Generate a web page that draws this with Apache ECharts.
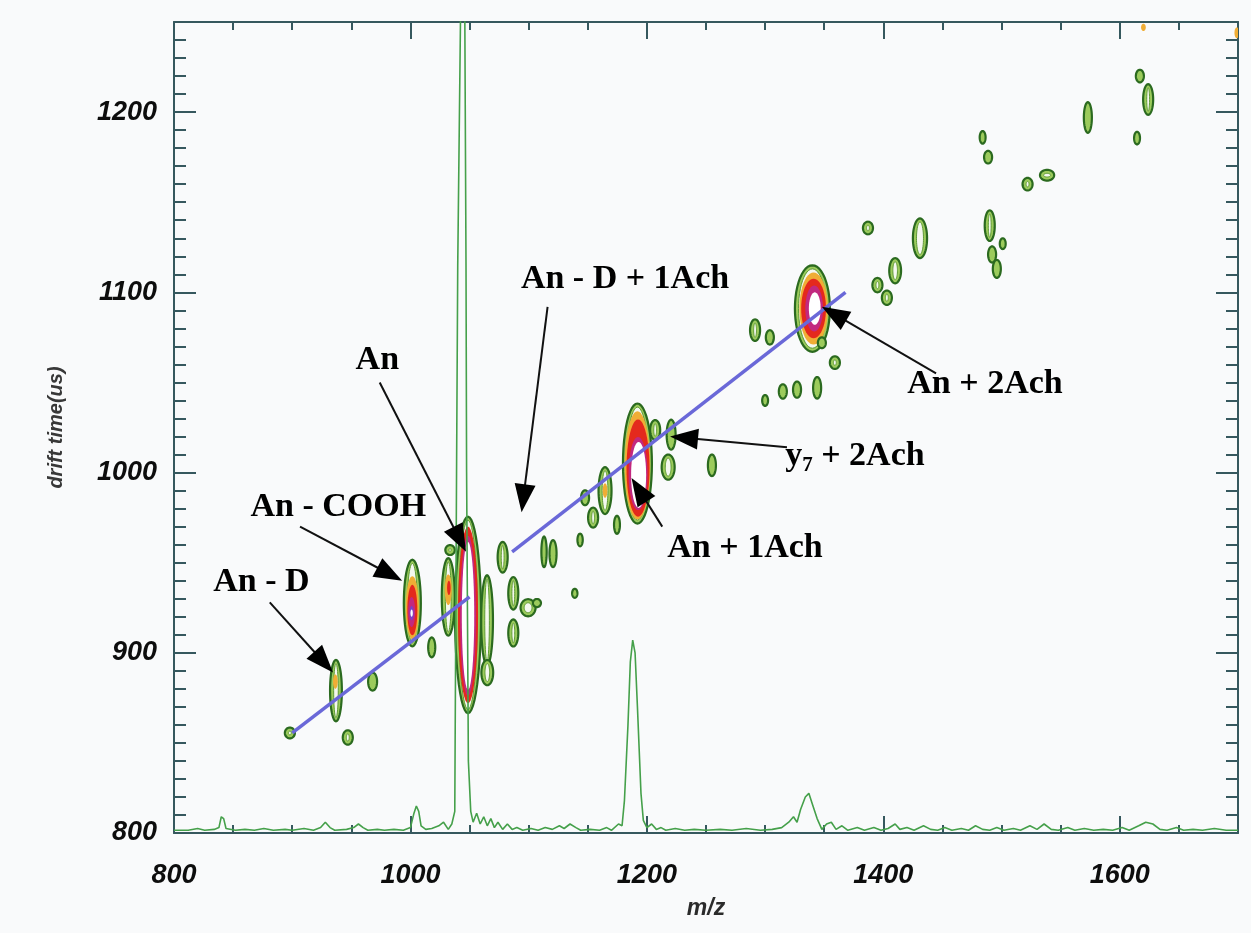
<!DOCTYPE html>
<html>
<head>
<meta charset="utf-8">
<script src="https://cdn.jsdelivr.net/npm/echarts@6/dist/echarts.min.js"></script>
<style>
html,body{margin:0;padding:0;background:#f9fafb;}
#chart{width:1251px;height:933px;}
</style>
</head>
<body>
<div id="chart"></div>
<script>
// ---------- axis ranges / ticks ----------
const xRange = [800, 1700];
const yRange = [800, 1250];
const xMajor = 200, xMinor = 50;
const yMajor = 100, yMinor = 10;
const xTickLabels = [800, 1000, 1200, 1400, 1600];
const yTickLabels = [800, 900, 1000, 1100, 1200];

// ---------- mass spectrum trace along the bottom [m/z, drift-time units] ----------
const spectrum = [
  [800,801.5],[812,801.5],[820,802.5],[826,801.5],[834,802],[838,803],[840,809],[842,808],[844,802.5],
  [852,801.5],[860,802],[868,801.5],[876,802.5],[884,801.5],[894,802],[900,801.5],[910,802.5],[918,801.5],
  [924,803],[928,806],[932,803],[936,801.5],[946,802],[952,803],[956,805],[960,803],[964,801.5],[972,802],
  [978,801.5],[986,802],[994,801.5],[1000,803],[1003,811],[1005,815],[1007,812],[1009,804],[1013,802],
  [1018,802.5],[1024,804],[1028,806],[1032,802],[1035,805],[1037.5,812],[1039,1000],[1040,1115],
  [1043.5,1320],[1045.5,1320],[1047,1115],[1047.5,1000],[1049,840],[1051,812],[1053,806],[1056,811],
  [1059,805],[1062,809],[1065,804],[1068,808],[1071,803],[1074,806],[1078,802],[1082,805],[1086,802],
  [1090,803],[1095,801.5],[1102,802.5],[1108,801.5],[1114,803],[1120,802],[1126,804],[1130,802.5],
  [1135,805],[1140,803],[1144,801.5],[1152,802],[1160,801.5],[1166,803],[1170,801.5],[1176,805],[1179,804],
  [1181,818],[1184,860],[1186,895],[1188,907],[1190,900],[1192,870],[1195,822],[1197,807],[1200,803],
  [1204,805],[1208,802],[1212,803],[1216,801.5],[1224,802.5],[1232,801.5],[1240,802],[1250,801.5],
  [1262,802],[1272,801.5],[1284,802.5],[1296,801.5],[1306,802],[1314,803],[1320,806],[1324,809],[1327,806],
  [1330,813],[1334,820],[1337,822],[1340,816],[1344,808],[1348,802],[1352,805],[1356,806],[1360,802],
  [1365,804],[1370,801.5],[1378,803],[1384,801.5],[1392,803],[1398,801.5],[1404,802.5],[1410,805],
  [1414,802],[1420,803],[1426,801.5],[1434,804],[1440,802],[1446,801.5],[1452,803],[1458,801.5],
  [1466,802.5],[1472,801.5],[1478,804],[1484,802],[1490,801.5],[1496,803],[1502,801.5],[1510,802.5],
  [1516,801.5],[1524,804],[1530,802],[1536,805],[1542,802],[1548,801.5],[1556,803],[1562,801.5],
  [1570,802.5],[1578,801.5],[1586,802],[1594,801.5],[1602,803],[1608,801.5],[1616,804],[1622,806],
  [1628,805],[1634,802],[1640,801.5],[1648,803],[1654,801.5],[1662,802],[1670,801.5],[1680,802.5],
  [1690,801.5],[1700,801.5]
];

// ---------- contour spots [m/z, drift time, width(m/z), height(us), level] ----------
const contourSpots = [
  [898,855.5,8.5,6,0],
  [937,879,10,34,0],[936.5,884,4,8,1],
  [947,853,8.5,8,0],
  [968,884,7.6,10,0],
  [1001.6,927.6,14.4,48,0],[1001.6,925,11,35,1],[1001.6,923.7,8.5,28,2],[1001,922.6,6,16.6,3],[1001,922,3.5,8,4],[1001,922,2,4,5],
  [1018,903,6,11,0],
  [1032,931,11,43,0],[1032,935,6,17,1],[1032.5,936,3,8,2],
  [1033.5,957,8,5.5,0],
  [1064.8,918,10,50,0],[1065,889,10,14,0],
  [1048.7,921,22,109,0],[1048.7,921,17,98,2],[1048.7,920.5,13.5,89,3],[1048.7,920.5,10.5,82,5],
  [1078,953,8.5,17,0],[1087,933,8.5,18,0],[1087,911,8.5,15,0],[1099.5,925,12.7,9.5,0],[1107,927.6,6.8,4.5,0],
  [1113,956,4.5,17,0],[1120.6,955,6,15,0],[1139,933,4.5,5,0],[1143.5,962.6,4.5,7,0],[1147.7,986,6.8,8.3,0],
  [1154.5,975,8.5,11,0],[1164.6,990,11,26,0],[1164.6,990,4,8,1],[1174.7,971,5,10,0],
  [1207,1023.6,8.5,11,0],[1218,1003,11,14,0],[1220.5,1021,7.6,16.6,0],
  [1192,1005,24.5,66.6,0],[1192,1004,21.5,60,1],[1192.5,1002.5,19.5,54,2],[1192.5,999.5,16,40.5,3],[1193,998.7,12.7,36.6,5],
  [1255,1004,6.8,12,0],
  [1291.5,1079,8.5,12,0],[1304,1075,6.8,8,0],[1300,1040,5,6,0],[1315,1045,6.8,8,0],[1327,1046,6.8,9,0],
  [1344,1047,6.8,12,0],[1359,1061,8.5,7,0],
  [1340,1091,29.6,48,0],[1341,1091,24,40,1],[1341,1091,21,33,2],[1341.5,1091,15,25.5,3],[1342,1091,10,18,5],
  [1348,1072,6.8,6,0],
  [1387,1135.7,8.5,7,0],[1395,1104,8.5,8,0],[1403,1097,8.5,8,0],[1410,1112,10,14,0],[1431,1130,12,22,0],
  [1490,1137,8.5,17,0],[1492,1121,6.8,9,0],[1496,1113,6.8,10,0],[1501,1127,5,6,0],
  [1522,1160,8.5,7,0],[1538.5,1165,12,6,0],[1484,1186,5,7,0],[1488.6,1175,6.8,7,0],
  [1573,1197,6.8,17,0],[1617,1220,6.8,7,0],[1624,1207,8.5,17,0],[1614.6,1185.6,5,7,0],
  [1620,1247,4,4,1],[1699,1244,4,6,1]
];

// ---------- fitted trend lines ----------
const trendLine1 = [[900,855.5],[1050,931]];
const trendLine2 = [[1086,956],[1368,1100]];

// ---------- annotations ----------
const annLabels  = ['An - D','An - COOH','An','An - D + 1Ach','An + 2Ach','{b|y}{s|7}{b| + 2Ach}','An + 1Ach'];
const annTextPos = [[874,939],[939,981],[972,1062.5],[1181.5,1107],[1486,1049],[1376,1009],[1283,958]];
const annTail    = [[881,928],[906.6,970],[974,1050],[1116,1092],[1444.6,1055],[1318.5,1014],[1213,970]];
const annTip     = [[934.5,889],[993,940],[1047,956],[1094,978],[1348,1092],[1219.6,1020],[1187,997]];

// ---------- styles ----------
const axisColor = '#36585e';
const levelStyles = [
  {fill:'#9ccb5c', stroke:'#2b6a1f', lineWidth:2.2},
  {fill:'#f0ad35', stroke:null, lineWidth:0},
  {fill:'#e4291d', stroke:null, lineWidth:0},
  {fill:'#c2287f', stroke:null, lineWidth:0},
  {fill:'#7a40c8', stroke:null, lineWidth:0},
  {fill:'#ffffff', stroke:null, lineWidth:0}
];
const ringCenterColor = '#f4f8ee';
const tickFont = {color:'#0d0d0d', fontFamily:'Liberation Sans', fontWeight:'bold', fontStyle:'italic', fontSize:27};
const annFont = 'Liberation Serif';

function fmtX(v){ return xTickLabels.indexOf(v) >= 0 ? String(v) : ''; }
function fmtY(v){ return yTickLabels.indexOf(v) >= 0 ? String(v) : ''; }

function axisBase(range){
  return {type:'value', min:range[0], max:range[1], splitLine:{show:false},
    axisLine:{show:true, onZero:false, lineStyle:{color:axisColor, width:2}}};
}
function tickAxis(range, pos, interval, len, lineShown){
  const a = axisBase(range);
  a.position = pos; a.interval = interval;
  a.axisLine.show = lineShown;
  a.axisTick = {show:true, inside:true, length:len, lineStyle:{color:axisColor, width:2}};
  a.axisLabel = {show:false};
  return a;
}

const xMain = tickAxis(xRange, 'bottom', xMajor, 17, true);
xMain.axisLabel = Object.assign({show:true, margin:29, formatter:fmtX}, tickFont);
xMain.name = 'm/z'; xMain.nameLocation = 'middle'; xMain.nameGap = 64;
xMain.nameTextStyle = {color:'#2b2b2b', fontFamily:'Liberation Sans', fontStyle:'italic', fontWeight:'bold', fontSize:23};

const yMain = tickAxis(yRange, 'left', yMajor, 22, true);
yMain.axisLabel = Object.assign({show:true, margin:17, formatter:fmtY}, tickFont);
yMain.name = 'drift time(us)'; yMain.nameLocation = 'middle'; yMain.nameGap = 108; yMain.nameRotate = 90;
yMain.nameTextStyle = {color:'#383838', fontFamily:'Liberation Sans', fontStyle:'italic', fontWeight:'bold', fontSize:20};

function ellipsePts(cx, cy, rx, ry){
  const pts = [];
  for (let k = 0; k < 48; k++){
    const t = k/48*Math.PI*2;
    pts.push([cx + rx*Math.cos(t), cy + ry*Math.sin(t)]);
  }
  return pts;
}

const option = {
  backgroundColor:'#f9fafb',
  animation:false,
  grid:{left:174, right:13, top:22, bottom:100, containLabel:false},
  xAxis:[
    xMain,
    tickAxis(xRange,'bottom',xMinor,8,false),
    tickAxis(xRange,'top',xMajor,17,true),
    tickAxis(xRange,'top',xMinor,8,false)
  ],
  yAxis:[
    yMain,
    tickAxis(yRange,'left',yMinor,12,false),
    tickAxis(yRange,'right',yMajor,22,true),
    tickAxis(yRange,'right',yMinor,12,false)
  ],
  series:[
    {
      type:'custom', name:'contours', xAxisIndex:0, yAxisIndex:0, clip:true, z:2,
      data: contourSpots,
      encode:{x:0, y:1},
      renderItem:function(params, api){
        const c = api.coord([api.value(0), api.value(1)]);
        const s = api.size([api.value(2), api.value(3)]);
        const lv = api.value(4);
        const rx = s[0]/2, ry = s[1]/2;
        const st = levelStyles[lv];
        const children = [{type:'polygon', shape:{points:ellipsePts(c[0],c[1],rx,ry)},
          style:{fill:st.fill, stroke:st.stroke || 'none', lineWidth:st.lineWidth}}];
        if (lv === 0 && rx > 4.5 && ry > 4.5){
          children.push({type:'polygon', shape:{points:ellipsePts(c[0],c[1],rx-3.6,ry-3.6)},
            style:{fill:ringCenterColor, stroke:'#5e9a35', lineWidth:1}});
        }
        return {type:'group', children:children};
      }
    },
    {
      type:'line', name:'spectrum', xAxisIndex:0, yAxisIndex:0, data:spectrum, z:3,
      showSymbol:false, symbol:'none', clip:true,
      lineStyle:{color:'#45a04a', width:1.6}
    },
    {
      type:'line', name:'trend1', xAxisIndex:0, yAxisIndex:0, data:trendLine1, z:4,
      symbol:'none', lineStyle:{color:'#6a68d8', width:3.5}
    },
    {
      type:'line', name:'trend2', xAxisIndex:0, yAxisIndex:0, data:trendLine2, z:4,
      symbol:'none', lineStyle:{color:'#6a68d8', width:3.5}
    },
    {
      type:'custom', name:'annotations', xAxisIndex:0, yAxisIndex:0, z:5,
      data: annLabels.map((l,i)=>[annTextPos[i][0],annTextPos[i][1],annTail[i][0],annTail[i][1],annTip[i][0],annTip[i][1]]),
      encode:{x:[0,2,4], y:[1,3,5]},
      renderItem:function(params, api){
        const t = api.coord([api.value(0), api.value(1)]);
        const a = api.coord([api.value(2), api.value(3)]);
        const b = api.coord([api.value(4), api.value(5)]);
        const dx = b[0]-a[0], dy = b[1]-a[1];
        const len = Math.sqrt(dx*dx+dy*dy);
        const ux = dx/len, uy = dy/len;
        const L = 28, W = 10.5;
        const bx = b[0]-ux*L, by = b[1]-uy*L;
        const px = -uy, py = ux;
        const label = annLabels[params.dataIndex];
        return {type:'group', children:[
          {type:'line', shape:{x1:a[0], y1:a[1], x2:bx+ux*3, y2:by+uy*3},
            style:{stroke:'#111', lineWidth:2}},
          {type:'polygon', shape:{points:[[b[0],b[1]],[bx+px*W,by+py*W],[bx-px*W,by-py*W]]},
            style:{fill:'#000'}},
          {type:'text', x:t[0], y:t[1], style:{
            text:label, align:'center', verticalAlign:'middle',
            fontFamily:annFont, fontWeight:'bold', fontSize:34, fill:'#000',
            rich:{
              b:{fontFamily:annFont, fontWeight:'bold', fontSize:34, fill:'#000', color:'#000', lineHeight:40},
              s:{fontFamily:annFont, fontWeight:'bold', fontSize:21, fill:'#000', color:'#000', lineHeight:20, verticalAlign:'bottom'}
            }
          }}
        ]};
      }
    }
  ]
};

const chart = echarts.init(document.getElementById('chart'), null, {renderer:'canvas'});
chart.setOption(option);
</script>
</body>
</html>
